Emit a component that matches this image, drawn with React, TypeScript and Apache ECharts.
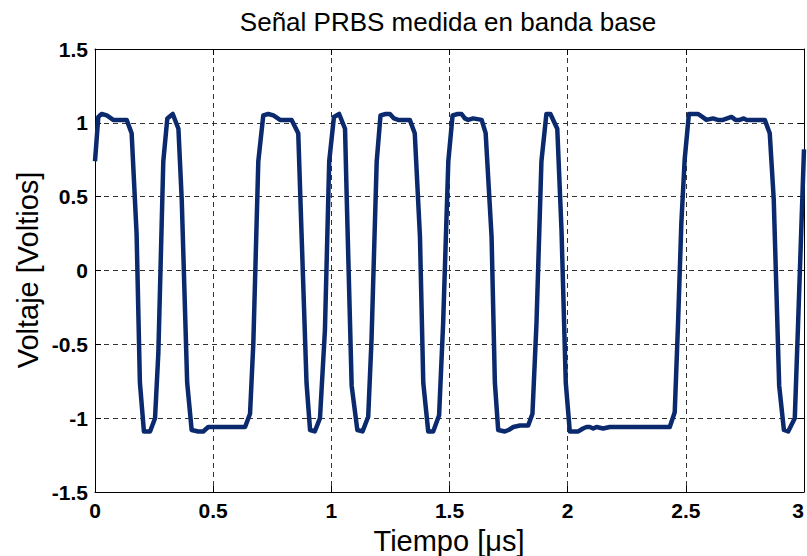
import React, { useEffect, useRef } from "react";
import * as echarts from "echarts";

const titleText = "Señal PRBS medida en banda base";
const xName = "Tiempo [μs]";
const yName = "Voltaje [Voltios]";

const timeUs: number[] = [
  0, 0.014, 0.028, 0.05, 0.077, 0.134, 0.155, 0.176, 0.19, 0.207, 0.233, 0.254, 0.268, 0.289,
  0.306, 0.329, 0.353, 0.367, 0.39, 0.409, 0.437, 0.458, 0.479, 0.5, 0.635, 0.656, 0.67, 0.691,
  0.712, 0.733, 0.755, 0.783, 0.832, 0.86, 0.874, 0.895, 0.91, 0.93, 0.952, 0.973, 0.991,
  1.011, 1.033, 1.058, 1.065, 1.086, 1.11, 1.132, 1.156, 1.17, 1.192, 1.208, 1.23, 1.248, 1.265,
  1.283, 1.332, 1.353, 1.375, 1.389, 1.41, 1.431, 1.456, 1.473, 1.495, 1.513, 1.535, 1.551,
  1.565, 1.579, 1.6, 1.636, 1.653, 1.678, 1.692, 1.706, 1.734, 1.75, 1.77, 1.798, 1.833, 1.851,
  1.868, 1.889, 1.91, 1.927, 1.956, 1.974, 1.992, 2.009, 2.045, 2.065, 2.08, 2.094, 2.108,
  2.122, 2.15, 2.178, 2.192, 2.432, 2.453, 2.467, 2.481, 2.495, 2.513, 2.551, 2.57, 2.587,
  2.615, 2.635, 2.657, 2.675, 2.693, 2.71, 2.728, 2.745, 2.756, 2.784, 2.834, 2.855, 2.872,
  2.895, 2.915, 2.933, 2.961, 2.975, 3.0,
];

const voltage: number[] = [
  0.74, 1.04, 1.06, 1.05, 1.02, 1.02, 0.93, 0.25, -0.76, -1.09, -1.09, -1.0, -0.56, 0.74,
  1.03, 1.06, 0.96, 0.48, -0.76, -1.08, -1.09, -1.09, -1.06, -1.06, -1.06, -0.97, -0.49, 0.74,
  1.05, 1.06, 1.05, 1.02, 1.02, 0.93, 0.25, -0.76, -1.08, -1.09, -1.0, -0.4, 0.74,
  1.04, 1.06, 0.96, 0.5, -0.78, -1.08, -1.09, -0.99, -0.47, 0.74, 1.05, 1.06, 1.06, 1.03,
  1.02, 1.02, 0.93, 0.23, -0.76, -1.09, -1.09, -0.98, -0.36, 0.74, 1.05, 1.06, 1.06,
  1.03, 1.02, 1.03, 1.02, 0.93, 0.23, -0.76, -1.08, -1.09, -1.08, -1.06, -1.05, -1.05, -0.97,
  -0.36, 0.74, 1.06, 1.06, 0.96, 0.27, -0.76, -1.09, -1.09, -1.07, -1.06, -1.06, -1.07,
  -1.06, -1.07, -1.06, -1.06, -1.06, -0.96, -0.36, 0.32, 0.75, 1.06, 1.06, 1.04, 1.02,
  1.03, 1.02, 1.02, 1.03, 1.04, 1.02, 1.02, 1.03, 1.02, 1.02, 1.02, 0.93, 0.48,
  -0.78, -1.08, -1.09, -1.0, -0.36, 0.82,
];

const FONT = "Arial, 'Liberation Sans', Helvetica, sans-serif";

export default function App() {
  const ref = useRef<HTMLDivElement>(null);

  useEffect(() => {
    if (!ref.current) return;
    const chart = echarts.init(ref.current, undefined, { renderer: "svg" });
    const data = timeUs.map((t, i) => [t, voltage[i]]);

    const tickLabel = {
      color: "#000",
      fontFamily: FONT,
      fontWeight: "bold",
      fontSize: 21,
    };
    const splitLine = {
      show: true,
      lineStyle: { color: "#333", type: [5, 4] as number[], width: 1 },
    };

    chart.setOption({
      animation: false,
      backgroundColor: "#fff",
      grid: {
        left: 95,
        right: 3,
        top: 49,
        bottom: 64,
        containLabel: false,
        outerBoundsMode: "none",
      },
      graphic: [
        {
          type: "text",
          x: 448,
          y: 22,
          style: {
            text: titleText,
            font: `26px ${FONT}`,
            fill: "#000",
            textAlign: "center",
            textVerticalAlign: "middle",
          },
        },
        {
          type: "text",
          x: 449,
          y: 541,
          style: {
            text: xName,
            font: `29px ${FONT}`,
            fill: "#000",
            textAlign: "center",
            textVerticalAlign: "middle",
          },
        },
        {
          type: "text",
          x: 28,
          y: 270,
          rotation: Math.PI / 2,
          style: {
            text: yName,
            font: `29px ${FONT}`,
            fill: "#000",
            textAlign: "center",
            textVerticalAlign: "middle",
          },
        },
      ],
      xAxis: [
        {
          type: "value",
          min: 0,
          max: 3,
          interval: 0.5,
          position: "bottom",
          axisLine: { show: true, onZero: false, lineStyle: { color: "#000", width: 1 } },
          axisTick: { show: true, inside: true, length: 6, lineStyle: { color: "#000" } },
          axisLabel: { ...tickLabel, margin: 8, alignMaxLabel: "right" },
          splitLine,
        },
        {
          type: "value",
          min: 0,
          max: 3,
          interval: 0.5,
          position: "top",
          axisLine: { show: true, onZero: false, lineStyle: { color: "#000", width: 1 } },
          axisTick: { show: true, inside: true, length: 6, lineStyle: { color: "#000" } },
          axisLabel: { show: false },
          splitLine: { show: false },
        },
      ],
      yAxis: [
        {
          type: "value",
          min: -1.5,
          max: 1.5,
          interval: 0.5,
          position: "left",
          axisLine: { show: true, onZero: false, lineStyle: { color: "#000", width: 1 } },
          axisTick: { show: true, inside: true, length: 6, lineStyle: { color: "#000" } },
          axisLabel: { ...tickLabel, margin: 7 },
          splitLine,
        },
        {
          type: "value",
          min: -1.5,
          max: 1.5,
          interval: 0.5,
          position: "right",
          axisLine: { show: true, onZero: false, lineStyle: { color: "#000", width: 1 } },
          axisTick: { show: true, inside: true, length: 6, lineStyle: { color: "#000" } },
          axisLabel: { show: false },
          splitLine: { show: false },
        },
      ],
      series: [
        {
          type: "line",
          xAxisIndex: 0,
          yAxisIndex: 0,
          data,
          showSymbol: false,
          symbol: "none",
          clip: true,
          lineStyle: { color: "#0b2a6e", width: 4.5, join: "round" },
          itemStyle: { color: "#0b2a6e" },
        },
      ],
    });

    return () => chart.dispose();
  }, []);

  return (
    <div
      ref={ref}
      style={{ position: "fixed", left: 0, top: 0, width: 807, height: 556, background: "#fff" }}
    />
  );
}
